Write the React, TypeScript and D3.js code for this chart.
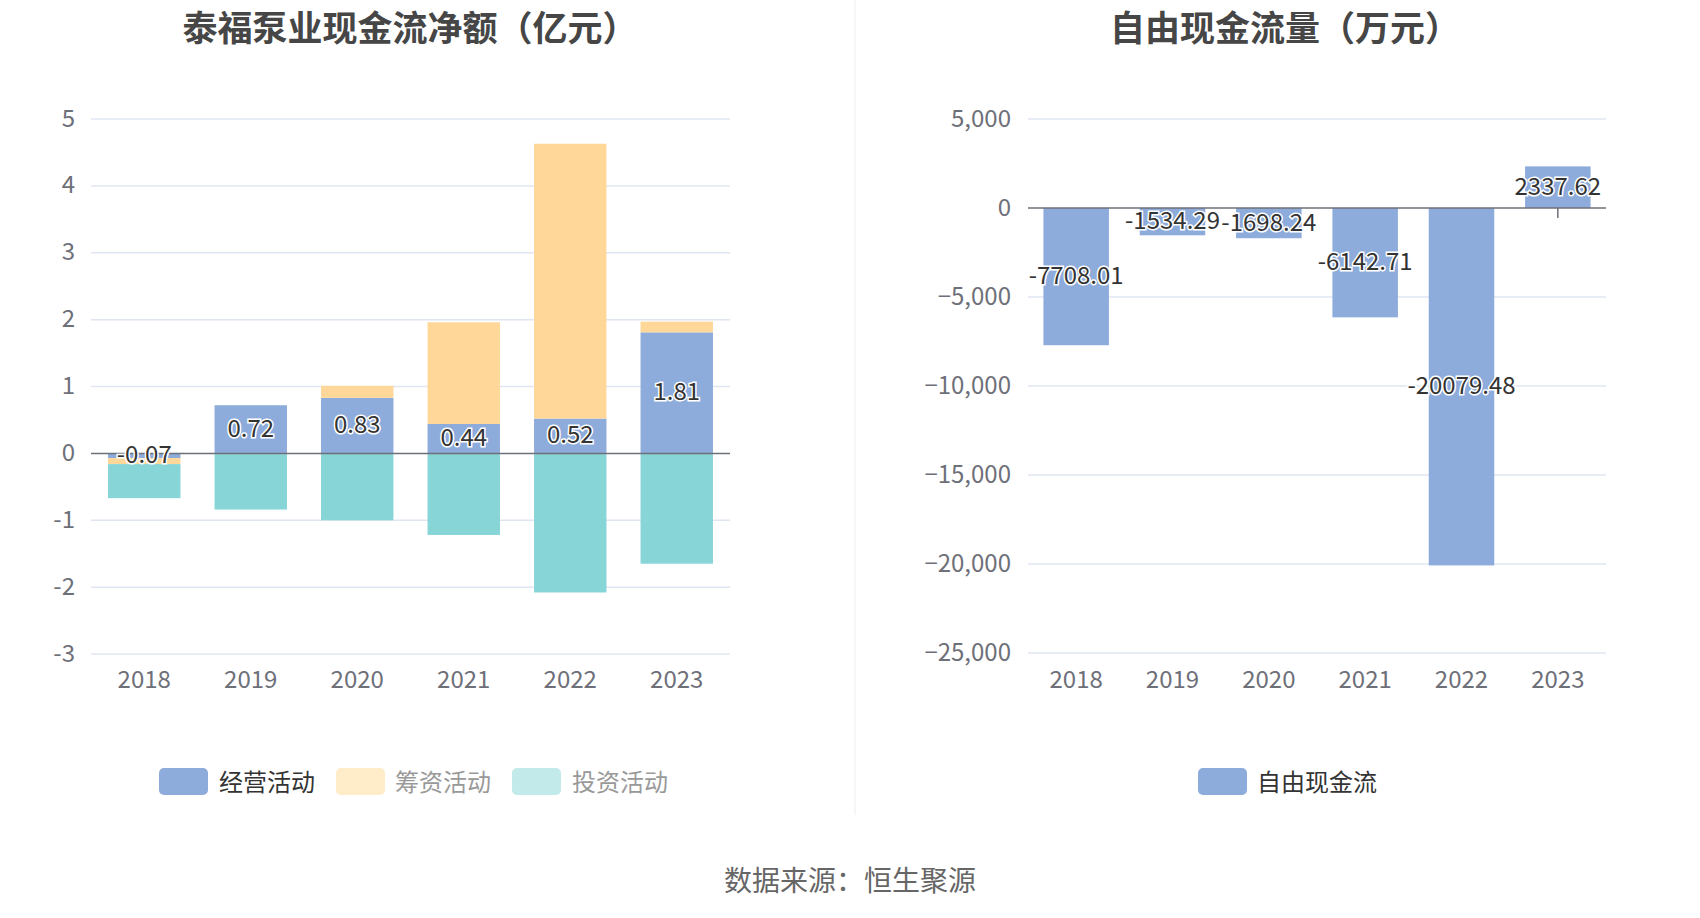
import { useEffect, useRef } from 'react'
import * as d3 from 'd3'

const years = ['2018', '2019', '2020', '2021', '2022', '2023']
const operating = [-0.07, 0.72, 0.83, 0.44, 0.52, 1.81]
const financing = [-0.09, -0.01, 0.18, 1.52, 4.11, 0.16]
const investing = [-0.51, -0.83, -1.0, -1.22, -2.08, -1.65]
const freeCashFlow = [-7708.01, -1534.29, -1698.24, -6142.71, -20079.48, 2337.62]

const leftTicks = [5, 4, 3, 2, 1, 0, -1, -2, -3]
const rightTicks = [5000, 0, -5000, -10000, -15000, -20000, -25000]

const seriesNames = ['经营活动', '筹资活动', '投资活动']
const seriesColors = ['#8eacdb', '#ffd899', '#88d5d8']
const legendColors = ['#8eacdb', '#ffecc9', '#c3eaeb']
const legendText = ['#333', '#999', '#999']

const FONT = '"Noto Sans CJK SC", "Noto Sans", sans-serif'
// Noto CJK sits a little low with a central baseline
const DY = -3

export default function App() {
  const svgRef = useRef<SVGSVGElement>(null)

  useEffect(() => {
    if (!svgRef.current) return
    const svg = d3.select(svgRef.current)
    svg.selectAll('*').remove()
    svg.attr('font-family', FONT)

    // divider
    svg.append('line')
      .attr('x1', 855).attr('x2', 855).attr('y1', 0).attr('y2', 815)
      .attr('stroke', '#eeeeee').attr('stroke-width', 1)

    // titles
    const titles = [
      { text: '泰福泵业现金流净额（亿元）', x: 410 },
      { text: '自由现金流量（万元）', x: 1285 },
    ]
    svg.selectAll('text.title').data(titles).join('text')
      .attr('class', 'title')
      .attr('x', d => d.x).attr('y', 25)
      .attr('text-anchor', 'middle').attr('dominant-baseline', 'central')
      .attr('font-size', 35).attr('font-weight', 700).attr('fill', '#464646')
      .text(d => d.text)

    // ---------- left chart ----------
    const xL = d3.scaleBand<string>().domain(years).range([91, 730])
    const yL = d3.scaleLinear().domain([-3, 5]).range([654, 119])
    const bwL = xL.bandwidth() * 0.68

    const gL = svg.append('g')
    gL.selectAll('line.grid').data(leftTicks.filter(t => t !== 0)).join('line')
      .attr('x1', 91).attr('x2', 730)
      .attr('y1', d => yL(d)).attr('y2', d => yL(d))
      .attr('stroke', '#e0e6f1').attr('stroke-width', 1.5)
    gL.selectAll('text.ytick').data(leftTicks).join('text')
      .attr('x', 75).attr('y', d => yL(d)).attr('dy', DY)
      .attr('text-anchor', 'end').attr('dominant-baseline', 'central')
      .attr('font-size', 24).attr('fill', '#6e7079')
      .text(d => String(d))
    gL.selectAll('text.xtick').data(years).join('text')
      .attr('x', d => xL(d)! + xL.bandwidth() / 2).attr('y', 680).attr('dy', DY)
      .attr('text-anchor', 'middle').attr('dominant-baseline', 'central')
      .attr('font-size', 24).attr('fill', '#6e7079')
      .text(d => d)

    const rows = years.map((y, i) => ({ year: y, op: operating[i], fin: financing[i], inv: investing[i] }))
    const stack = d3.stack<typeof rows[number]>()
      .keys(['op', 'fin', 'inv'])
      .offset(d3.stackOffsetDiverging)
    const stacked = stack(rows)

    stacked.forEach((layer, si) => {
      gL.append('g').selectAll('rect').data(layer).join('rect')
        .attr('x', d => xL(d.data.year)! + (xL.bandwidth() - bwL) / 2)
        .attr('width', bwL)
        .attr('y', d => yL(Math.max(d[0], d[1])))
        .attr('height', d => Math.abs(yL(d[0]) - yL(d[1])))
        .attr('fill', seriesColors[si])
    })

    gL.append('line')
      .attr('x1', 91).attr('x2', 730).attr('y1', yL(0)).attr('y2', yL(0))
      .attr('stroke', '#6e7079').attr('stroke-width', 1.5)

    gL.selectAll('text.lbl').data(stacked[0]).join('text')
      .attr('x', d => xL(d.data.year)! + xL.bandwidth() / 2)
      .attr('y', d => yL((d[0] + d[1]) / 2)).attr('dy', DY)
      .attr('text-anchor', 'middle').attr('dominant-baseline', 'central')
      .attr('font-size', 24).attr('fill', '#333')
      .attr('stroke', '#fff').attr('stroke-width', 3).attr('paint-order', 'stroke')
      .text(d => d.data.op.toFixed(2))

    // left legend
    const legL = [
      { sx: 159, tx: 219 },
      { sx: 336, tx: 395 },
      { sx: 512, tx: 572 },
    ]
    legL.forEach((p, i) => {
      svg.append('rect')
        .attr('x', p.sx).attr('y', 768).attr('width', 49).attr('height', 27).attr('rx', 5)
        .attr('fill', legendColors[i])
      svg.append('text')
        .attr('x', p.tx).attr('y', 781).attr('dy', -1).attr('dominant-baseline', 'central')
        .attr('font-size', 24).attr('fill', legendText[i])
        .text(seriesNames[i])
    })

    // ---------- right chart ----------
    const xR = d3.scaleBand<string>().domain(years).range([1028, 1606])
    const yR = d3.scaleLinear().domain([-25000, 5000]).range([653, 119])
    const bwR = xR.bandwidth() * 0.68
    const fmt = d3.format(',')

    const gR = svg.append('g')
    gR.selectAll('line.grid').data(rightTicks.filter(t => t !== 0)).join('line')
      .attr('x1', 1028).attr('x2', 1606)
      .attr('y1', d => yR(d)).attr('y2', d => yR(d))
      .attr('stroke', '#e0e6f1').attr('stroke-width', 1.5)
    gR.selectAll('text.ytick').data(rightTicks).join('text')
      .attr('x', 1011).attr('y', d => yR(d)).attr('dy', DY)
      .attr('text-anchor', 'end').attr('dominant-baseline', 'central')
      .attr('font-size', 24).attr('fill', '#6e7079')
      .text(d => fmt(d))
    gR.selectAll('text.xtick').data(years).join('text')
      .attr('x', d => xR(d)! + xR.bandwidth() / 2).attr('y', 680).attr('dy', DY)
      .attr('text-anchor', 'middle').attr('dominant-baseline', 'central')
      .attr('font-size', 24).attr('fill', '#6e7079')
      .text(d => d)

    // axis ticks at category centres (mostly hidden behind bars)
    gR.selectAll('line.tick').data(years).join('line')
      .attr('x1', d => xR(d)! + xR.bandwidth() / 2).attr('x2', d => xR(d)! + xR.bandwidth() / 2)
      .attr('y1', yR(0)).attr('y2', yR(0) + 10)
      .attr('stroke', '#6e7079').attr('stroke-width', 1.5)

    gR.selectAll('rect').data(freeCashFlow).join('rect')
      .attr('x', (_, i) => xR(years[i])! + (xR.bandwidth() - bwR) / 2)
      .attr('width', bwR)
      .attr('y', d => yR(Math.max(0, d)))
      .attr('height', d => Math.abs(yR(d) - yR(0)))
      .attr('fill', '#8eacdb')

    gR.append('line')
      .attr('x1', 1028).attr('x2', 1606).attr('y1', yR(0)).attr('y2', yR(0))
      .attr('stroke', '#6e7079').attr('stroke-width', 1.5)

    gR.selectAll('text.lbl').data(freeCashFlow).join('text')
      .attr('x', (_, i) => xR(years[i])! + xR.bandwidth() / 2)
      .attr('y', d => yR(d / 2)).attr('dy', DY)
      .attr('text-anchor', 'middle').attr('dominant-baseline', 'central')
      .attr('font-size', 24).attr('fill', '#333')
      .attr('stroke', '#fff').attr('stroke-width', 3).attr('paint-order', 'stroke')
      .text(d => d.toFixed(2))

    svg.append('rect')
      .attr('x', 1198).attr('y', 768).attr('width', 49).attr('height', 27).attr('rx', 5)
      .attr('fill', '#8eacdb')
    svg.append('text')
      .attr('x', 1257).attr('y', 781).attr('dy', -1).attr('dominant-baseline', 'central')
      .attr('font-size', 24).attr('fill', '#333')
      .text('自由现金流')

    // footer
    svg.append('text')
      .attr('x', 850).attr('y', 879)
      .attr('text-anchor', 'middle').attr('dominant-baseline', 'central')
      .attr('font-size', 28).attr('fill', '#666')
      .text('数据来源：恒生聚源')
  }, [])

  return (
    <svg
      ref={svgRef}
      width={1700}
      height={918}
      style={{ position: 'absolute', left: 0, top: 0, background: '#fff' }}
    />
  )
}
